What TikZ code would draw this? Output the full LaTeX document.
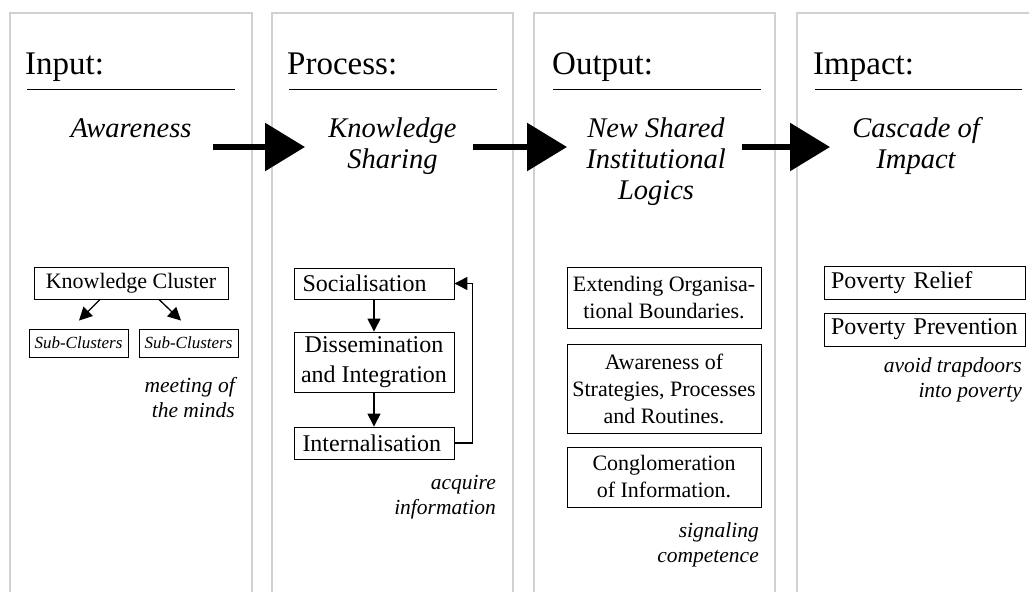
\documentclass[tikz,border=0pt]{standalone}
\usepackage{fontspec}
\setmainfont{Liberation Serif}
\usetikzlibrary{arrows.meta}
\begin{document}
\begin{tikzpicture}[x=1pt,y=-1pt,
  panel/.style={draw=black!18, line width=2pt},
  head/.style={font=\fontsize{33}{36}\selectfont, anchor=base west, inner sep=0},
  rule/.style={line width=1pt},
  title/.style={font=\fontsize{28.5}{31}\selectfont\itshape, anchor=base, align=center, inner sep=0},
  box/.style={draw, line width=0.9pt, font=\fontsize{22}{27}\selectfont, inner sep=0, align=center},
  bigbox/.style={draw, line width=0.9pt, font=\fontsize{24}{30}\selectfont, inner sep=0, align=center},
  lbox/.style={draw, line width=0.9pt, font=\fontsize{24}{29}\selectfont, inner ysep=0, align=left},
  subbox/.style={draw, line width=0.9pt, font=\fontsize{17}{20}\selectfont\itshape, inner sep=0, minimum width=99pt, minimum height=28pt},
  note/.style={font=\fontsize{21.5}{25}\selectfont\itshape, anchor=base east, inner sep=0, align=right},
  big/.style={line width=6pt, -{Triangle[length=40pt,width=47pt]}},
  small/.style={line width=1.3pt, -{Triangle[length=13pt,width=13pt]}},
]
\useasboundingbox (0,0) rectangle (1029,592);
\clip (0,0) rectangle (1029,592);

% panels
\draw[panel] (10,600) -- (10,13) -- (252,13) -- (252,600);
\draw[panel] (272,600) -- (272,13) -- (513,13) -- (513,600);
\draw[panel] (534,600) -- (534,13) -- (775,13) -- (775,600);
\draw[panel] (797,600) -- (797,13) -- (1040,13) -- (1040,600);

% headers
\node[head] (h1) at (25,74) {Input:};
\node[head] (h2) at (287,74) {Process:};
\node[head] (h3) at (552,74) {Output:};
\node[head] (h4) at (813,74) {Impact:};
\draw[rule] (27,89) -- (235,89);
\draw[rule] (289,89) -- (497,89);
\draw[rule] (553,89) -- (761,89);
\draw[rule] (815,89) -- (1022,89);

% titles (base anchor = baseline of last line)
\node[title] (t1) at (131,137) {Awareness};
\node[title] (t2) at (392.5,168) {Knowledge\\Sharing};
\node[title] (t3) at (656,199) {New Shared\\Institutional\\Logics};
\node[title] (t4) at (916,168) {Cascade of\\Impact};

% big arrows
\coordinate (a1s) at (213,147); \coordinate (a1e) at (305,147);
\coordinate (a2s) at (473,147); \coordinate (a2e) at (567,147);
\coordinate (a3s) at (742,147); \coordinate (a3e) at (830,147);
\draw[big] (a1s) -- (a1e);
\draw[big] (a2s) -- (a2e);
\draw[big] (a3s) -- (a3e);

% panel 1
\node[box, minimum width=194pt, minimum height=32pt] (kc) at (131,283) {Knowledge Cluster};
\node[subbox] (sub1) at (78.5,343) {Sub-Clusters};
\node[subbox] (sub2) at (188.5,343) {Sub-Clusters};
\draw[small] ([xshift=-31pt]kc.south) -- ([xshift=0.5pt,yshift=8pt]sub1.north);
\draw[small] ([xshift=28pt]kc.south) -- ([xshift=-7.5pt,yshift=8pt]sub2.north);
\node[note] (n1) at (235,417) {meeting of\\the minds};

% panel 2
\node[lbox, minimum height=31pt, text width=143pt, inner xsep=8.5pt] (soc) at (374,283.5) {Socialisation};
\node[bigbox, minimum width=160pt, minimum height=60pt] (diss) at (374,362) {Dissemination\\and Integration};
\node[lbox, minimum height=32pt, text width=143pt, inner xsep=8.5pt] (int) at (374,443) {Internalisation};
\draw[small] (soc) -- (diss);
\draw[small] (diss) -- (int);
\draw[small] (int.east) -- ++(18,0) |- (soc.east);
\node[note] (n2) at (496,514) {acquire\\information};

% panel 3
\node[box, minimum width=194pt, minimum height=61pt] (ext) at (664,297.5) {Extending Organisa-\\tional Boundaries.};
\node[box, minimum width=194pt, minimum height=89pt] (aws) at (664,388.5) {Awareness of\\Strategies, Processes\\and Routines.};
\node[box, minimum width=194pt, minimum height=60pt] (cong) at (664,477) {Conglomeration\\of Information.};
\node[note] (n3) at (759,562) {signaling\\competence};

% panel 4
\node[lbox, minimum height=33pt, text width=193pt, inner xsep=4pt] (pr) at (924.5,282.5) {\hspace*{3pt}Poverty Relief};
\node[lbox, minimum height=33pt, text width=193pt, inner xsep=4pt] (pp) at (924.5,329.5) {\hspace*{3pt}Poverty Prevention};
\node[note] (n4) at (1022,397) {avoid trapdoors\\into poverty};
\end{tikzpicture}
\end{document}
